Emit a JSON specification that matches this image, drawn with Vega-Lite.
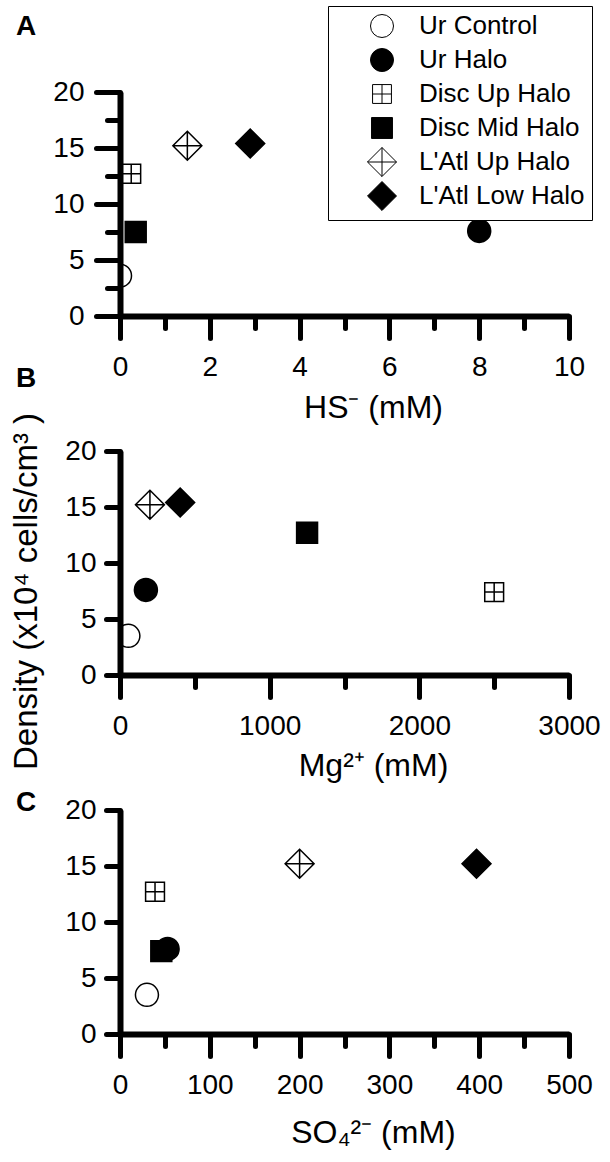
{
  "$schema": "https://vega.github.io/schema/vega-lite/v6.json",
  "padding": {"left": 9, "top": 5, "right": 5, "bottom": 5},
  "background": "white",
  "datasets": {
    "hs": [
      {"sample": "Ur Control", "conc": 0, "density": 3.6},
      {"sample": "Ur Halo", "conc": 8.0, "density": 7.6},
      {"sample": "Disc Up Halo", "conc": 0.25, "density": 12.7},
      {"sample": "Disc Mid Halo", "conc": 0.35, "density": 7.5},
      {"sample": "L'Atl Up Halo", "conc": 1.5, "density": 15.2},
      {"sample": "L'Atl Low Halo", "conc": 2.9, "density": 15.4}
    ],
    "mg": [
      {"sample": "Ur Control", "conc": 56, "density": 3.5},
      {"sample": "Ur Halo", "conc": 173, "density": 7.6},
      {"sample": "Disc Up Halo", "conc": 2500, "density": 7.4},
      {"sample": "Disc Mid Halo", "conc": 1250, "density": 12.7},
      {"sample": "L'Atl Up Halo", "conc": 200, "density": 15.2},
      {"sample": "L'Atl Low Halo", "conc": 402, "density": 15.4}
    ],
    "so4": [
      {"sample": "Ur Control", "conc": 30, "density": 3.5},
      {"sample": "Disc Mid Halo", "conc": 46, "density": 7.4},
      {"sample": "Ur Halo", "conc": 53, "density": 7.6},
      {"sample": "Disc Up Halo", "conc": 39, "density": 12.7},
      {"sample": "L'Atl Up Halo", "conc": 200, "density": 15.2},
      {"sample": "L'Atl Low Halo", "conc": 397, "density": 15.2}
    ]
  },
  "spacing": 135,
  "bounds": "flush",
  "resolve": {
    "scale": {"shape": "independent", "fill": "independent", "stroke": "independent"},
    "legend": {"shape": "independent", "fill": "independent", "stroke": "independent"}
  },
  "vconcat": [
    {
      "width": 449,
      "height": 224,
      "title": {"text": "A", "dx": -104, "dy": 39},
      "data": {"name": "hs"},
      "layer": [
        {
          "mark": {"type": "point", "opacity": 0},
          "encoding": {
            "x": {"field": "conc", "type": "quantitative", "scale": {"domain": [0, 10], "nice": false},
              "axis": {"orient": "bottom", "values": [1, 3, 5, 7, 9], "tickSize": 12, "labels": false, "domain": false, "title": null, "zindex": 1}},
            "y": {"field": "density", "type": "quantitative", "scale": {"domain": [0, 20], "nice": false},
              "axis": {"orient": "left", "values": [2.5, 7.5, 12.5, 17.5], "tickSize": 13, "labels": false, "domain": false, "title": null, "zindex": 1}}
          }
        },
        {
          "mark": {"type": "point", "filled": true, "size": 529, "strokeWidth": 1.5, "opacity": 1, "clip": true},
          "encoding": {
            "x": {"field": "conc", "type": "quantitative", "scale": {"domain": [0, 10], "nice": false},
              "axis": {"orient": "bottom", "values": [0, 2, 4, 6, 8, 10], "tickSize": 22, "labelPadding": 15, "title": "HS⁻ (mM)", "titleX": 253, "titleY": 101, "zindex": 2}},
            "y": {"field": "density", "type": "quantitative", "scale": {"domain": [0, 20], "nice": false},
              "axis": {"orient": "left", "values": [0, 5, 10, 15, 20], "tickSize": 24, "labelPadding": 12, "title": null, "zindex": 2}},
            "shape": {"field": "sample", "type": "nominal",
              "scale": {"domain": ["Ur Control", "Ur Halo", "Disc Up Halo", "Disc Mid Halo", "L'Atl Up Halo", "L'Atl Low Halo"],
                "range": ["circle", "circle", "M-0.82,-0.82H0.82V0.82H-0.82Z M0,-0.82V0.82 M-0.82,0H0.82", "M-0.91,-0.91H0.91V0.91H-0.91Z", "M0,-1.26L1.26,0L0,1.26L-1.26,0Z M0,-1.26V1.26 M-1.26,0H1.26", "M0,-1.26L1.26,0L0,1.26L-1.26,0Z"]},
              "legend": {"orient": "none", "legendX": 208, "legendY": -86, "title": null}},
            "fill": {"field": "sample", "type": "nominal",
              "scale": {"domain": ["Ur Control", "Ur Halo", "Disc Up Halo", "Disc Mid Halo", "L'Atl Up Halo", "L'Atl Low Halo"],
                "range": ["white", "black", "white", "black", "white", "black"]},
              "legend": {"orient": "none", "legendX": 208, "legendY": -86, "title": null}},
            "stroke": {"field": "sample", "type": "nominal",
              "scale": {"domain": ["Ur Control", "Ur Halo", "Disc Up Halo", "Disc Mid Halo", "L'Atl Up Halo", "L'Atl Low Halo"],
                "range": ["black", "black", "black", "black", "black", "black"]},
              "legend": {"orient": "none", "legendX": 208, "legendY": -86, "title": null}}
          }
        }
      ],
      "resolve": {"axis": {"x": "independent", "y": "independent"}}
    },
    {
      "width": 449,
      "height": 224,
      "title": {"text": "B", "dx": -104, "dy": -15},
      "data": {"name": "mg"},
      "layer": [
        {
          "mark": {"type": "point", "opacity": 0},
          "encoding": {
            "x": {"field": "conc", "type": "quantitative", "scale": {"domain": [0, 3000], "nice": false},
              "axis": {"orient": "bottom", "values": [500, 1500, 2500], "tickSize": 12, "labels": false, "domain": false, "title": null, "zindex": 1}},
            "y": {"field": "density", "type": "quantitative", "scale": {"domain": [0, 20], "nice": false}, "axis": null}
          }
        },
        {
          "mark": {"type": "point", "filled": true, "size": 529, "strokeWidth": 1.5, "opacity": 1, "clip": true},
          "encoding": {
            "x": {"field": "conc", "type": "quantitative", "scale": {"domain": [0, 3000], "nice": false},
              "axis": {"orient": "bottom", "values": [0, 1000, 2000, 3000], "format": "d", "tickSize": 22, "labelPadding": 15, "title": "Mg²⁺ (mM)", "titleX": 253, "titleY": 100, "zindex": 2}},
            "y": {"field": "density", "type": "quantitative", "scale": {"domain": [0, 20], "nice": false},
              "axis": {"orient": "left", "values": [0, 5, 10, 15, 20], "tickSize": 14, "labelPadding": 10, "title": "Density (x10⁴ cells/cm³ )", "titleFontSize": 33, "titleAngle": -90, "titleAlign": "center", "titleBaseline": "middle", "titleX": -94, "titleY": 140, "zindex": 2}},
            "shape": {"field": "sample", "type": "nominal",
              "scale": {"domain": ["Ur Control", "Ur Halo", "Disc Up Halo", "Disc Mid Halo", "L'Atl Up Halo", "L'Atl Low Halo"],
                "range": ["circle", "circle", "M-0.82,-0.82H0.82V0.82H-0.82Z M0,-0.82V0.82 M-0.82,0H0.82", "M-0.91,-0.91H0.91V0.91H-0.91Z", "M0,-1.26L1.26,0L0,1.26L-1.26,0Z M0,-1.26V1.26 M-1.26,0H1.26", "M0,-1.26L1.26,0L0,1.26L-1.26,0Z"]},
              "legend": null},
            "fill": {"field": "sample", "type": "nominal",
              "scale": {"domain": ["Ur Control", "Ur Halo", "Disc Up Halo", "Disc Mid Halo", "L'Atl Up Halo", "L'Atl Low Halo"],
                "range": ["white", "black", "white", "black", "white", "black"]},
              "legend": null},
            "stroke": {"field": "sample", "type": "nominal",
              "scale": {"domain": ["Ur Control", "Ur Halo", "Disc Up Halo", "Disc Mid Halo", "L'Atl Up Halo", "L'Atl Low Halo"],
                "range": ["black", "black", "black", "black", "black", "black"]},
              "legend": null}
          }
        }
      ],
      "resolve": {"axis": {"x": "independent", "y": "independent"}}
    },
    {
      "width": 449,
      "height": 224,
      "title": {"text": "C", "dx": -104, "dy": 25},
      "data": {"name": "so4"},
      "layer": [
        {
          "mark": {"type": "point", "opacity": 0},
          "encoding": {
            "x": {"field": "conc", "type": "quantitative", "scale": {"domain": [0, 500], "nice": false},
              "axis": {"orient": "bottom", "values": [50, 150, 250, 350, 450], "tickSize": 12, "labels": false, "domain": false, "title": null, "zindex": 1}},
            "y": {"field": "density", "type": "quantitative", "scale": {"domain": [0, 20], "nice": false}, "axis": null}
          }
        },
        {
          "mark": {"type": "point", "filled": true, "size": 529, "strokeWidth": 1.5, "opacity": 1, "clip": true},
          "encoding": {
            "x": {"field": "conc", "type": "quantitative", "scale": {"domain": [0, 500], "nice": false},
              "axis": {"orient": "bottom", "values": [0, 100, 200, 300, 400, 500], "tickSize": 22, "labelPadding": 15, "title": "SO₄²⁻ (mM)", "titleX": 253, "titleY": 108, "zindex": 2}},
            "y": {"field": "density", "type": "quantitative", "scale": {"domain": [0, 20], "nice": false},
              "axis": {"orient": "left", "values": [0, 5, 10, 15, 20], "tickSize": 14, "labelPadding": 10, "title": null, "zindex": 2}},
            "shape": {"field": "sample", "type": "nominal",
              "scale": {"domain": ["Ur Control", "Ur Halo", "Disc Up Halo", "Disc Mid Halo", "L'Atl Up Halo", "L'Atl Low Halo"],
                "range": ["circle", "circle", "M-0.82,-0.82H0.82V0.82H-0.82Z M0,-0.82V0.82 M-0.82,0H0.82", "M-0.91,-0.91H0.91V0.91H-0.91Z", "M0,-1.26L1.26,0L0,1.26L-1.26,0Z M0,-1.26V1.26 M-1.26,0H1.26", "M0,-1.26L1.26,0L0,1.26L-1.26,0Z"]},
              "legend": null},
            "fill": {"field": "sample", "type": "nominal",
              "scale": {"domain": ["Ur Control", "Ur Halo", "Disc Up Halo", "Disc Mid Halo", "L'Atl Up Halo", "L'Atl Low Halo"],
                "range": ["white", "black", "white", "black", "white", "black"]},
              "legend": null},
            "stroke": {"field": "sample", "type": "nominal",
              "scale": {"domain": ["Ur Control", "Ur Halo", "Disc Up Halo", "Disc Mid Halo", "L'Atl Up Halo", "L'Atl Low Halo"],
                "range": ["black", "black", "black", "black", "black", "black"]},
              "legend": null}
          }
        }
      ],
      "resolve": {"axis": {"x": "independent", "y": "independent"}}
    }
  ],
  "config": {
    "view": {"stroke": null},
    "font": "Liberation Sans",
    "title": {"anchor": "start", "frame": "group", "fontSize": 28, "fontWeight": "bold", "color": "black", "font": "Liberation Sans", "offset": 0},
    "axis": {
      "grid": false,
      "domainColor": "black",
      "domainWidth": 6,
      "tickColor": "black",
      "tickWidth": 5,
      "tickCap": "round",
      "labelFont": "Liberation Sans",
      "labelFontSize": 28,
      "labelColor": "black",
      "labelFlush": false,
      "labelOverlap": false,
      "labelBound": false,
      "titleFont": "Liberation Sans",
      "titleFontSize": 32,
      "titleFontWeight": "normal",
      "titleColor": "black",
      "titleAlign": "center",
      "titleBaseline": "alphabetic"
    },
    "legend": {
      "strokeColor": "black",
      "fillColor": "white",
      "padding": 7,
      "labelFont": "Liberation Sans",
      "labelFontSize": 26,
      "labelColor": "black",
      "labelLimit": 0,
      "symbolSize": 529,
      "symbolStrokeWidth": 1,
      "symbolOpacity": 1,
      "gridAlign": "all",
      "rowPadding": 0,
      "symbolOffset": 34,
      "labelOffset": 24,
      "zindex": 3
    }
  }
}
